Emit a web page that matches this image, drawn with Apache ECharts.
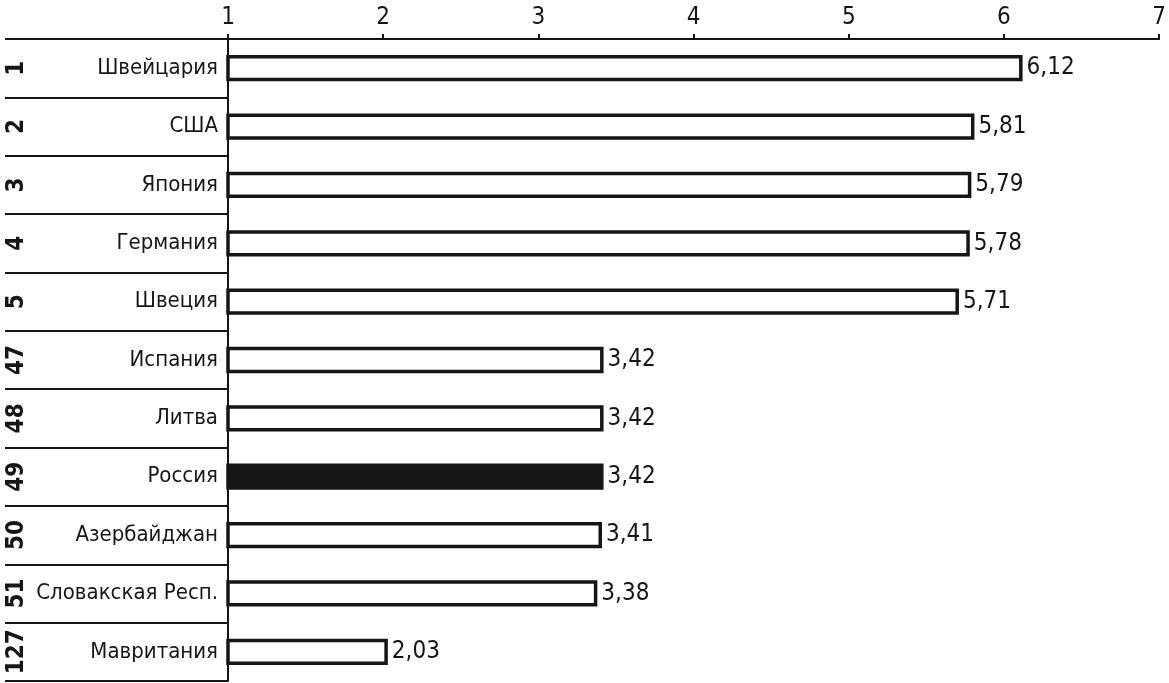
<!DOCTYPE html>
<html><head><meta charset="utf-8">
<script src="https://cdn.jsdelivr.net/npm/echarts@6/dist/echarts.min.js"></script>
<style>html,body{margin:0;padding:0;background:#fff}#c{width:1169px;height:683px}</style>
</head><body><div id="c"></div>
<script>
const countries = ['Швейцария','США','Япония','Германия','Швеция','Испания','Литва','Россия','Азербайджан','Словакская Респ.','Мавритания'];
const ranks = ['1','2','3','4','5','47','48','49','50','51','127'];
const values = [6.12,5.81,5.79,5.78,5.71,3.42,3.42,3.42,3.41,3.38,2.03];
const highlight = 'Россия';
const xTicks = [1,7,1];

const FONT = "'Liberation Sans Narrow','DejaVu Sans Condensed','Liberation Sans',sans-serif";
const ink = '#161616';
const chart = echarts.init(document.getElementById('c'));
chart.setOption({
  animation:false,
  backgroundColor:'#fff',
  grid:[
    {left:228,right:9,top:39,bottom:2},
    {left:5,width:223,top:39,bottom:2}
  ],
  xAxis:[
    {gridIndex:0,type:'value',position:'top',min:xTicks[0],max:xTicks[1],interval:xTicks[2],
     axisLine:{show:true,lineStyle:{color:ink,width:2}},
     axisTick:{show:true,length:5,lineStyle:{color:ink,width:2}},
     splitLine:{show:false},
     axisLabel:{fontFamily:FONT,fontSize:24,color:ink,margin:9}},
    {gridIndex:1,type:'value',min:0,max:1,show:false}
  ],
  yAxis:[
    {gridIndex:0,type:'category',data:countries,inverse:true,
     axisLine:{show:true,lineStyle:{color:ink,width:2}},
     axisTick:{show:false},
     axisLabel:{interval:0,fontFamily:FONT,fontSize:22,color:ink,margin:10}},
    {gridIndex:1,type:'category',data:ranks,inverse:true,
     axisLine:{show:false},axisTick:{show:false,interval:0},
     splitLine:{show:true,interval:0,lineStyle:{color:ink,width:2}},
     axisLabel:{interval:0,inside:true,rotate:90,margin:12,align:'center',verticalAlign:'middle',
       fontFamily:FONT,fontSize:24,fontWeight:'bold',color:ink}}
  ],
  series:[{
    type:'bar',xAxisIndex:0,yAxisIndex:0,barWidth:'45%',
    data:values.map((v,i)=>({value:v,itemStyle:countries[i]===highlight?{color:ink,borderColor:ink,borderWidth:3.5}:{color:'#fff',borderColor:ink,borderWidth:3.5}})),
    label:{show:true,position:'right',distance:4,fontFamily:FONT,fontSize:24,color:ink,
      formatter:p=>p.value.toFixed(2).replace('.',',')}
  }]
});
</script></body></html>
